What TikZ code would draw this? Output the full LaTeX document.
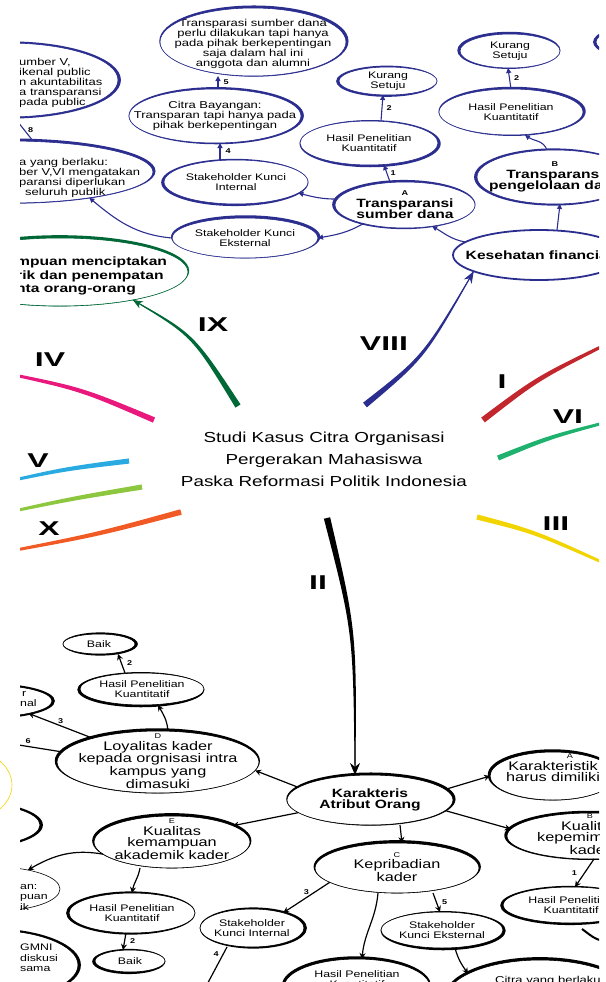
\documentclass[tikz,border=0pt]{standalone}
\usepackage{fontspec}
\setmainfont[FakeStretch=1.3]{Liberation Sans}
\newfontfamily\romfont[FakeStretch=1.6]{Liberation Sans}
\usetikzlibrary{shapes.geometric,arrows.meta,calc}

\definecolor{mapblue}{RGB}{43,46,142}
\definecolor{mapgreen}{RGB}{0,104,55}
\definecolor{pinkIV}{RGB}{232,24,124}
\definecolor{cyanV}{RGB}{41,171,226}
\definecolor{limeL}{RGB}{141,198,63}
\definecolor{orangeX}{RGB}{241,90,36}
\definecolor{redI}{RGB}{193,39,45}
\definecolor{greenVI}{RGB}{30,178,110}
\definecolor{yellowIII}{RGB}{242,212,0}

% small letter over a node text
\newcommand{\lettr}[1]{{\fontsize{7}{7}\selectfont #1}}
% thick rim on one side of an ellipse node
\newcommand{\rim}[3]{%
  \fill[#2, even odd rule] let \p1=(#1.center), \p2=(#1.east), \p3=(#1.north) in
    (\p1) ellipse [x radius={\x2-\x1}, y radius={\y3-\y1}]
    ($(\p1)+(#3:1.3pt)$) ellipse [x radius={\x2-\x1+1.6pt}, y radius={\y3-\y1+1.6pt}];}
% tapered stroke: colour, half widths at start / middle / end, start, control, end
\newcommand{\taper}[7]{%
  \fill[#1] ($(#5)!#2!90:(#6)$) .. controls ($(#6)!#3!90:(#7)$) .. ($(#7)!#4!-90:(#6)$)
    -- ($(#7)!#4!90:(#6)$) .. controls ($(#6)!#3!-90:(#7)$) .. ($(#5)!#2!-90:(#6)$) -- cycle;}

\begin{document}
\begin{tikzpicture}[x=1pt, y=-1pt,
  bnode/.style={ellipse, draw=mapblue, line width=0.6pt, inner sep=0pt, outer sep=0pt},
  knode/.style={ellipse, draw=black, line width=0.6pt, inner sep=0pt, outer sep=0pt},
  gnode/.style={ellipse, draw=mapgreen, line width=0.6pt, inner sep=0pt, outer sep=0pt},
  small/.style={align=center, font=\fontsize{9.5}{10.5}\selectfont},
  mid/.style={align=center, font=\fontsize{10}{10}\selectfont},
  big/.style={align=center, font=\fontsize{12.5}{11.5}\selectfont},
  heavy/.style={align=center, font=\bfseries\fontsize{12}{11.5}\selectfont},
  frag/.style={align=left, anchor=west, inner sep=0pt},
  num/.style={font=\bfseries\fontsize{7}{7}\selectfont, inner sep=1pt},
  roman/.style={font=\romfont\bfseries\fontsize{20}{20}\selectfont},
  bline/.style={draw=mapblue, line width=1.1pt, -{Triangle[length=5pt,width=5pt]}},
  kline/.style={draw=black, line width=1.2pt, -{Stealth[length=6pt,width=6pt]}}]

\useasboundingbox (0,0) rectangle (605,982);

% left yellow rim
\node[ellipse, draw=yellowIII, line width=0.6pt, minimum width=108pt, minimum height=76pt] (yel) at (-42,785) {};

\begin{scope}
\clip (20,0) rectangle (599,982);

% centre
\node[align=center, font=\fontsize{14.5}{22}\selectfont] (title) at (324,459)
  {Studi Kasus Citra Organisasi\\Pergerakan Mahasiswa\\Paska Reformasi Politik Indonesia};

% ---- financial cluster
\node[bnode, minimum width=186pt, minimum height=68pt, label={[mid, yshift=-2pt]center:{Transparasi sumber dana\\perlu dilakukan tapi hanya\\pada pihak berkepentingan\\saja dalam hal ini\\anggota dan alumni}}] (tsp) at (253,42) {};
\node[bnode, minimum width=172pt, minimum height=54pt, label={[mid]center:{Citra Bayangan:\\Transparan tapi hanya pada\\pihak berkepentingan}}] (cby) at (215,116) {};
\node[bnode, minimum width=144pt, minimum height=44pt, label={[small]center:{Stakeholder Kunci\\Internal}}] (ski) at (236,182) {};
\node[bnode, minimum width=146pt, minimum height=40pt, label={[small]center:{Stakeholder Kunci\\Eksternal}}] (ske) at (245,238) {};
\node[bnode, minimum width=140pt, minimum height=46pt, label={[heavy]center:{\lettr{A}\\Transparansi\\sumber dana}}] (tsd) at (405,205) {};
\node[bnode, minimum width=138pt, minimum height=44pt, label={[small]center:{Hasil Penelitian\\Kuantitatif}}] (tsdh) at (369,143) {};
\node[bnode, minimum width=98pt, minimum height=28pt, label={[small]center:{Kurang\\Setuju}}] (tsdk) at (388,81) {};
\node[bnode, line width=1.8pt, minimum width=172pt, minimum height=50pt, label={[heavy]center:{Kesehatan financial}}] (kf) at (539,255) {};
\node[bnode, minimum width=156pt, minimum height=54pt, label={[heavy]center:{\lettr{B}\\Transparansi\\pengelolaan dana}}] (tpd) at (555,177) {};
\node[bnode, minimum width=144pt, minimum height=46pt, label={[small]center:{Hasil Penelitian\\Kuantitatif}}] (tpdh) at (511,112) {};
\node[bnode, minimum width=100pt, minimum height=34pt, label={[small]center:{Kurang\\Setuju}}] (tpdk) at (510,51) {};
\node[bnode, minimum width=90pt, minimum height=30pt] (tpr) at (641,42) {};
\node[bnode, minimum width=220pt, minimum height=74pt] (cyd) at (8,80) {};
\node[mid, frag] (cydt) at (19,83) {umber V,\\ikenal public\\n akuntabilitas\\a transparansi\\pada public};
\node[bnode, minimum width=286pt, minimum height=62pt] (cyb) at (10,172) {};
\node[mid, frag] (cybt) at (19,178) {a yang berlaku:\\ber V,VI mengatakan\\paransi diperlukan\\\hspace*{6pt}seluruh publik};

\rim{tsp}{mapblue}{45}
\rim{cby}{mapblue}{15}
\rim{ski}{mapblue}{200}
\rim{ske}{mapblue}{60}
\rim{tsd}{mapblue}{160}
\rim{tsdh}{mapblue}{-30}
\rim{tsdk}{mapblue}{190}
\rim{tpd}{mapblue}{180}
\rim{tpdh}{mapblue}{30}
\rim{tpdk}{mapblue}{150}
\rim{tpr}{mapblue}{180}
\rim{cyd}{mapblue}{0}
\rim{cyb}{mapblue}{45}

\draw[bline] ([xshift=-15pt]tsd.north) -- ([xshift=15pt]tsdh.south) node[num, midway, right=2pt] {1};
\draw[bline] ([xshift=12pt]tsdh.north) -- ([xshift=-5pt]tsdk.south) node[num, midway, right=3pt] {2};
\draw[bline] (tsd.175) to[out=180, in=-15] (ski.-10) node[num, midway, above=1pt] {3};
\draw[bline] (tsd.204) to[out=210, in=10] (ske.east) node[num, midway, above=2pt] {6};
\draw[bline] ([xshift=-16pt]ski.north) -- ([xshift=5pt]cby.south) node[num, midway, right=4pt] {4};
\draw[bline] ([xshift=3pt]cby.north) -- ([xshift=-35pt]tsp.south) node[num, midway, right=4pt] {5};
\draw[bline] (ske.west) to[out=175, in=-40] (cyb.-18) node[num, pos=0.4, above=3pt] {7};
\draw[bline] ([xshift=23pt]cyb.north) -- ([xshift=6pt]cyd.south) node[num, pos=0.45, right=2pt] {8};
\draw[bline] (kf.170) to[out=170, in=-30] (tsd.-38);
\draw[bline] ([xshift=18pt]kf.north) -- ([xshift=5pt]tpd.south);
\draw[bline] ([xshift=-8pt]tpd.north) to[out=110, in=-35] ([xshift=14pt]tpdh.south) node[num, midway, above right] {1};
\draw[bline] (tpdh.north) -- ([xshift=-2pt]tpdk.south) node[num, midway, right=3pt] {2};

% ---- green branch
\node[gnode, minimum width=256pt, minimum height=68pt] (kmp) at (60,272) {};
\node[frag, font=\bfseries\fontsize{12}{13.5}\selectfont] (kmpt) at (16,276) {mpuan menciptakan\\rik dan penempatan\\nta orang-orang};
\rim{kmp}{mapgreen}{110}

% ---- main branches
\coordinate (ix-in) at (238,406);   \coordinate (ix-c) at (193,335);
\coordinate (viii-in) at (365,405); \coordinate (viii-c) at (424,357);
\coordinate (ii-in) at (327,518);   \coordinate (ii-c) at (355,632);
\taper{mapgreen}{3pt}{1.6pt}{0.4pt}{ix-in}{ix-c}{kmp.-21}
\draw[mapgreen, line width=0.8pt, -{Stealth[length=10pt,width=8pt]}] (ix-in) .. controls (ix-c) .. (kmp.-21);
\taper{mapblue}{3pt}{1.6pt}{0.4pt}{viii-in}{viii-c}{kf.194}
\draw[mapblue, line width=0.8pt, -{Stealth[length=12pt,width=9pt]}] (viii-in) .. controls (viii-c) .. (kf.194);

\coordinate (iv-in) at (154,420);  \coordinate (iv-c) at (81,389);   \coordinate (iv-out) at (0,372);
\coordinate (v-in) at (129,461);   \coordinate (v-c) at (65,469);    \coordinate (v-out) at (0,483);
\coordinate (l-in) at (142,487);   \coordinate (l-c) at (70,499);    \coordinate (l-out) at (0,514);
\coordinate (x-in) at (181,512);   \coordinate (x-c) at (95,535);    \coordinate (x-out) at (0,553);
\coordinate (i-in) at (483,420);   \coordinate (i-c) at (538,378);   \coordinate (i-out) at (615,340);
\coordinate (vi-in) at (498,458);  \coordinate (vi-c) at (550,437);  \coordinate (vi-out) at (615,420);
\coordinate (iii-in) at (477,517); \coordinate (iii-c) at (535,532); \coordinate (iii-out) at (615,568);
\taper{pinkIV}{2.8pt}{2.1pt}{1.3pt}{iv-in}{iv-c}{iv-out}
\taper{cyanV}{2.6pt}{2pt}{1.3pt}{v-in}{v-c}{v-out}
\taper{limeL}{2.6pt}{2pt}{1.3pt}{l-in}{l-c}{l-out}
\taper{orangeX}{2.8pt}{2.1pt}{1.3pt}{x-in}{x-c}{x-out}
\taper{redI}{3pt}{2.3pt}{1.4pt}{i-in}{i-c}{i-out}
\taper{greenVI}{2.6pt}{2pt}{1.3pt}{vi-in}{vi-c}{vi-out}
\taper{yellowIII}{2.6pt}{2pt}{1.3pt}{iii-in}{iii-c}{iii-out}

\node[roman] (r9) at (213,325) {IX};
\node[roman] (r8) at (384,344) {VIII};
\node[roman] (r4) at (50,360) {IV};
\node[roman] (r1) at (502,382) {I};
\node[roman] (r6) at (568,417) {VI};
\node[roman] (r5) at (38,461) {V};
\node[roman] (r10) at (49,529) {X};
\node[roman] (r3) at (556,524) {III};
\node[roman] (r2) at (318,583) {II};

% ---- people cluster
\node[knode, minimum width=166pt, minimum height=50pt, label={[heavy]center:{Karakteris\\Atribut Orang}}] (kar) at (370,800) {};
\taper{black}{3.2pt}{1.8pt}{0.4pt}{ii-in}{ii-c}{[xshift=-15pt]kar.north}
\draw[black, line width=0.8pt, -{Stealth[length=12pt,width=10pt]}] (ii-in) .. controls (ii-c) .. ([xshift=-15pt]kar.north);

\node[knode, minimum width=126pt, minimum height=48pt, label={[big, yshift=8pt]center:{\hspace*{34pt}\lettr{A}\\Karakteristik\\harus dimiliki}}] (akh) at (553,776) {};
\node[knode, minimum width=166pt, minimum height=46pt, label={[big, yshift=2pt]center:{\lettr{B}\\Kualitas\\kepemimpinan\\kader}}] (bkk) at (590,836) {};
\node[knode, minimum width=136pt, minimum height=36pt, label={[small]center:{Hasil Penelitian\\Kuantitatif}}] (hpb) at (571,905) {};
\node[knode, minimum width=164pt, minimum height=50pt, label={[big, yshift=1pt]center:{\lettr{C}\\Kepribadian\\kader}}] (kpk) at (397,868) {};
\node[knode, minimum width=122pt, minimum height=36pt, label={[small]center:{Stakeholder\\Kunci Eksternal}}] (ske2) at (442,930) {};
\node[knode, minimum width=104pt, minimum height=38pt, label={[small]center:{Stakeholder\\Kunci Internal}}] (ski2) at (252,928) {};
\node[knode, minimum width=146pt, minimum height=56pt, label={[small, yshift=8pt]center:{Hasil Penelitian\\Kuantitatif}}] (hpk) at (357,987) {};
\node[knode, minimum width=190pt, minimum height=80pt] (cyb2) at (540,1000) {};
\node[mid, frag] (cyb2t) at (495,981) {Citra yang berlaku};
\node[knode, minimum width=202pt, minimum height=62pt, label={[big, yshift=1pt]center:{\lettr{D}\\Loyalitas kader\\kepada orgnisasi intra\\kampus yang\\dimasuki}}] (lkd) at (158,762) {};
\node[knode, minimum width=124pt, minimum height=32pt, label={[small]center:{Hasil Penelitian\\Kuantitatif}}] (hpd) at (142,689) {};
\node[knode, minimum width=72pt, minimum height=20pt, label={[small]center:{Baik}}] (bkd) at (99,644) {};
\node[knode, minimum width=128pt, minimum height=32pt] (skil) at (-12,701) {};
\node[small, frag] (skilt) at (20,699) {\hspace*{2pt}r\\nal};
\node[knode, minimum width=156pt, minimum height=52pt, label={[big, yshift=3pt]center:{\lettr{E}\\Kualitas\\kemampuan\\akademik kader}}] (kkk) at (172,842) {};
\node[knode, minimum width=126pt, minimum height=40pt, label={[small]center:{Hasil Penelitian\\Kuantitatif}}] (hpe) at (132,913) {};
\node[knode, minimum width=70pt, minimum height=22pt, label={[small]center:{Baik}}] (bke) at (130,961) {};
\node[knode, minimum width=130pt, minimum height=44pt] (cykl) at (-5,889) {};
\node[small, frag] (cyklt) at (20,897) {an:\\puan\\ik};
\node[knode, minimum width=176pt, minimum height=70pt] (gmnil) at (-10,965) {};
\node[small, frag] (gmnilt) at (20,958) {GMNI\\diskusi\\sama};
\node[knode, minimum width=140pt, minimum height=44pt] (blkl) at (-30,825) {};

\rim{kar}{black}{45}
\rim{akh}{black}{120}
\rim{bkk}{black}{150}
\rim{hpb}{black}{200}
\rim{kpk}{black}{80}
\rim{ske2}{black}{-30}
\rim{ski2}{black}{0}
\rim{hpk}{black}{120}
\rim{cyb2}{black}{90}
\rim{lkd}{black}{120}
\rim{hpd}{black}{210}
\rim{bkd}{black}{0}
\rim{skil}{black}{0}
\rim{kkk}{black}{100}
\rim{hpe}{black}{180}
\rim{bke}{black}{200}
\rim{gmnil}{black}{0}
\rim{blkl}{black}{0}

\coordinate (o6) at (0,742);
\coordinate (o4) at (203,992);
\draw[kline] (kar.170) -- (lkd.-5);
\draw[kline] (kar.190) -- (kkk.15);
\draw[kline] (kar.8) -- (akh.west);
\draw[kline] (kar.-8) -- (bkk.175);
\draw[kline] ([xshift=30pt]kar.south) -- ([xshift=5pt]kpk.north);
\draw[kline] ([xshift=10pt]lkd.north) to[out=95, in=-60] ([xshift=16pt]hpd.south) node[num, midway, right=3pt] {1};
\draw[kline] ([xshift=-17pt]hpd.north) -- ([xshift=19pt]bkd.south) node[num, midway, right=4pt] {2};
\draw[kline] (lkd.160) -- (skil.-17) node[num, midway, above=1pt] {3};
\draw[kline] (lkd.174) -- (o6) node[num, pos=0.55, above=1pt] {6};
\draw[kline] (kkk.190) to[out=170, in=30] (cykl.30) node[num, midway, above=2pt] {3};
\draw[kline] ([xshift=-32pt]kkk.south) to[out=-100, in=80] (hpe.north) node[num, midway, left=2pt] {1};
\draw[kline] ([xshift=-6pt]hpe.south) -- ([xshift=-7pt]bke.north) node[num, midway, right=4pt] {2};
\draw[kline] (kpk.192) -- (ski2.26) node[num, midway, above=1pt] {3};
\draw[kline] ([xshift=-19pt]kpk.south) to[out=-95, in=85] ([xshift=5pt]hpk.north) node[num, pos=0.3, left=2pt] {1};
\draw[kline] ([xshift=36pt]kpk.south) -- ([xshift=-2pt]ske2.north) node[num, midway, right=4pt] {5};
\draw[kline] ([xshift=13pt]ske2.south) to[out=-75, in=125] (cyb2.160) node[num, midway, right=3pt] {6};
\draw[kline] ([xshift=-25pt]ski2.south) -- (o4) node[num, pos=0.15, left=3pt] {4};
\draw[kline] ([xshift=4pt]bkk.south) -- ([xshift=4pt]hpb.north) node[num, midway, left=6pt] {1};
\draw[black, line width=2pt] (582,929) to[out=-35, in=175] (605,941);
\end{scope}
\end{tikzpicture}
\end{document}
